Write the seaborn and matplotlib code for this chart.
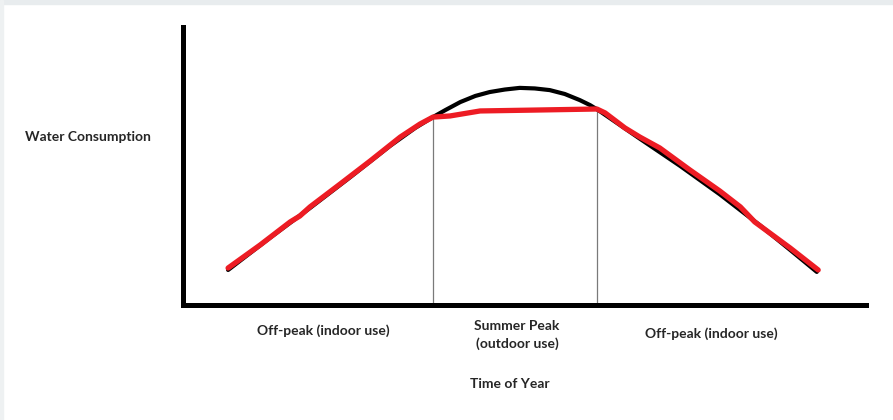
import matplotlib
matplotlib.use("Agg")
import matplotlib.pyplot as plt
import matplotlib.patches as mpatches
import seaborn as sns

# region Datos
# curva negra (demanda total), x = época del año, y = consumo
curva_x = [6.6, 12.7, 18.6, 24.5, 30.3, 34.0, 36.6, 38.4, 40.6, 42.8, 44.9, 47.1,
           49.3, 51.5, 53.7, 55.9, 58.1, 59.6, 60.8, 66.9, 72.8, 78.6, 84.5, 88.9, 92.8]
curva_y = [12.6, 24.1, 34.9, 46.0, 57.2, 63.7, 67.6, 70.1, 73.0, 75.2, 76.6, 77.5,
           78.1, 77.9, 77.3, 75.9, 73.7, 71.9, 70.1, 59.8, 50.0, 39.8, 28.6, 19.8, 11.9]

# línea roja (uso interior + pico de verano recortado)
roja_x = [6.6, 11.3, 15.7, 17.1, 18.6, 23.0, 27.4, 31.8, 34.7, 36.6, 39.1, 43.5,
          51.0, 60.6, 61.8, 64.7, 66.9, 69.8, 74.2, 78.6, 81.6, 83.7, 88.9, 93.0]
roja_y = [13.3, 21.6, 29.9, 32.0, 35.3, 43.5, 51.8, 60.4, 65.1, 67.6, 68.0, 69.8,
          70.1, 70.5, 69.1, 63.7, 60.4, 56.5, 48.6, 41.0, 35.3, 29.9, 20.5, 12.6]

# límites del pico de verano
limites_x = [36.6, 60.6]
limites_y = [67.6, 70.5]

etiquetas_periodo = ["Off-peak (indoor use)", "Summer Peak\n(outdoor use)", "Off-peak (indoor use)"]
titulo_y = "Water Consumption"
titulo_x = "Time of Year"
# endregion

# region Figura
sns.set_style("white")
plt.rcParams["font.family"] = ["Lato", "DejaVu Sans"]

W, H = 893, 420
fig = plt.figure(figsize=(W / 100, H / 100), dpi=100)

# borde gris claro arriba e izquierda
fig.patches.append(mpatches.Rectangle((0, 1 - 4 / H), 1, 4 / H, transform=fig.transFigure,
                                      color="#e8ecee", zorder=0))
fig.patches.append(mpatches.Rectangle((0, 0), 3 / W, 1, transform=fig.transFigure,
                                      color="#eef1f2", zorder=0))

ax = fig.add_axes([183 / W, 1 - 305 / H, (866 - 183) / W, (305 - 27) / H])
ax.set_xlim(0, 100)
ax.set_ylim(0, 100)
# endregion

# region Líneas
for x, y in zip(limites_x, limites_y):
    ax.plot([x, x], [0, y], color="#7a7a7a", lw=0.9, zorder=1)

sns.lineplot(x=curva_x, y=curva_y, sort=False, color="black", lw=3.0, ax=ax, zorder=2,
             solid_joinstyle="round")
sns.lineplot(x=roja_x, y=roja_y, sort=False, color="#ed1c24", lw=3.8, ax=ax, zorder=3,
             solid_capstyle="round", solid_joinstyle="round")
# endregion

# region Ejes y textos
sns.despine(ax=ax)
for s in ["left", "bottom"]:
    ax.spines[s].set_linewidth(3.6)
    ax.spines[s].set_color("black")
ax.set_xticks([])
ax.set_yticks([])

fig.text(88 / W, 1 - 137 / H, titulo_y, ha="center", va="center", fontsize=10, fontweight="bold")
centros = [(323, 331), (517, 335), (711, 334)]
for (cx, cy), txt in zip(centros, etiquetas_periodo):
    fig.text(cx / W, 1 - cy / H, txt, ha="center", va="center", fontsize=10,
             fontweight="bold", linespacing=1.45)
fig.text(510 / W, 1 - 384 / H, titulo_x, ha="center", va="center", fontsize=10, fontweight="bold")
# endregion

fig.savefig("out.png", dpi=100)
